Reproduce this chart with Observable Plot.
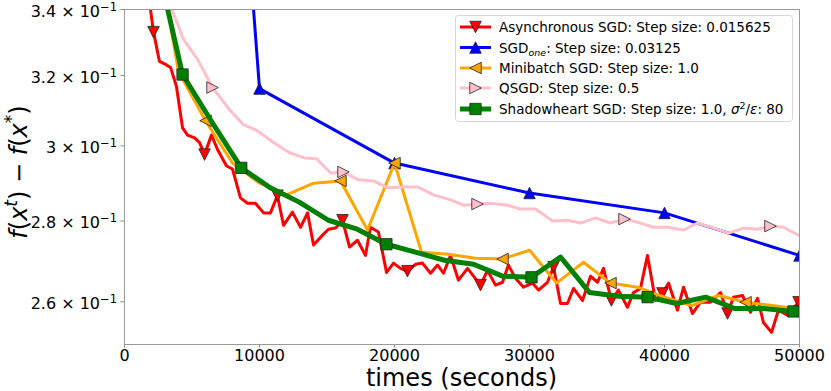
<!DOCTYPE html>
<html><head><meta charset="utf-8">
<script src="https://cdn.jsdelivr.net/npm/d3@7"></script>
<script src="https://cdn.jsdelivr.net/npm/@observablehq/plot@0.6"></script>
<style>
body{margin:0;background:#fff;}
#chart svg{display:block;}
</style>
</head><body><div id="chart"></div>
<script>
// ---------- data ----------
const asyncT = [1630,2150,2590,3040,3410,3850,4300,4670,5190,5560,
  5930,6440,6890,7560,8000,8590,9110,9700,10300,10810,
  11330,11780,12440,13040,13560,14000,14670,15110,15630,16150,
  16670,17260,17850,18220,18810,19410,19930,20440,20960,21560,
  22070,22670,23190,23630,24150,24740,25410,26370,26890,27480,
  28000,28440,28960,29560,30220,30670,31330,31780,32300,32810,
  33260,33930,34520,35040,35480,36070,36590,37260,37700,38220,
  38740,39330,39850,40300,40960,41410,42070,42670,43410,44150,
  44670,45110,45780,46370,46890,47330,47930,48440,49110,49930];
const asyncV = [0.3495,0.3330,0.3242,0.3233,0.3224,0.3168,0.3050,0.3030,0.3022,0.3009,
  0.2976,0.3030,0.2990,0.2945,0.2937,0.2860,0.2846,0.2846,0.2821,0.2821,
  0.2866,0.2789,0.2823,0.2784,0.2821,0.2739,0.2764,0.2779,0.2782,0.2802,
  0.2734,0.2751,0.2713,0.2784,0.2772,0.2671,0.2694,0.2681,0.2674,0.2691,
  0.2694,0.2669,0.2689,0.2669,0.2713,0.2652,0.2681,0.2640,0.2676,0.2640,
  0.2647,0.2689,0.2657,0.2635,0.2645,0.2628,0.2647,0.2684,0.2596,0.2596,
  0.2632,0.2603,0.2662,0.2647,0.2681,0.2603,0.2628,0.2587,0.2622,0.2632,
  0.2713,0.2603,0.2620,0.2645,0.2580,0.2635,0.2572,0.2599,0.2599,0.2622,
  0.2572,0.2611,0.2615,0.2575,0.2608,0.2551,0.2528,0.2580,0.2568,0.2599];
const asyncMarks = [1,10,20,29,38,47,57,65,72,80,89];

const oneT = [0,10000,20000,30000,40000,50000];
const oneV = [1.64,0.3162,0.2953,0.2873,0.2821,0.2713];
const oneMarks = [0,1,2,3,4,5];

const miniT = [2000,4000,6000,8000,10000,12000,14000,16000,18000,20000,
  22000,24000,26000,28000,30000,32000,34000,36000,38000,40000,
  42000,44000,46000,48000,50000];
const miniV = [0.370,0.3212,0.3070,0.2953,0.2899,0.2868,0.2899,0.2905,0.2777,0.2953,
  0.2721,0.2716,0.2706,0.2704,0.2726,0.2645,0.2696,0.2645,0.2635,0.2611,
  0.2591,0.2615,0.2599,0.2591,0.2582];
const miniMarks = [2,7,9,13,17,22];

const qsgdT = [3260,4370,5410,6520,7780,8810,9850,11040,12220,13330,
  14220,15260,16220,17330,18440,19480,20590,21700,22890,24150,
  25110,26150,27110,28370,29330,30440,31700,32810,33780,34890,
  36000,37040,38000,39190,40220,41410,42440,43630,44740,45850,
  46890,47850,48810,49930];
const qsgdV = [0.3428,0.3308,0.3248,0.3165,0.3101,0.3059,0.3042,0.3009,0.2981,0.2967,
  0.2965,0.2926,0.2929,0.2908,0.2905,0.2887,0.2889,0.2889,0.2868,0.2855,
  0.2841,0.2844,0.2846,0.2841,0.2831,0.2831,0.2800,0.2802,0.2795,0.2808,
  0.2795,0.2805,0.2797,0.2784,0.2784,0.2777,0.2795,0.2782,0.2769,0.2782,
  0.2779,0.2787,0.2784,0.2764];
const qsgdMarks = [3,12,21,31,41];

const shadowT = [2150,4300,6450,8650,10800,12950,15100,17250,19400,21550,
  23700,25850,28000,30150,32300,34450,36600,38750,40900,43050,
  45200,47350,49550];
const shadowV = [0.360,0.3203,0.3068,0.2940,0.2887,0.2849,0.2802,0.2779,0.2741,0.2721,
  0.2701,0.2691,0.2662,0.2659,0.2709,0.2622,0.2613,0.2611,0.2596,0.2611,
  0.2584,0.2584,0.2577];
const shadowMarks = [1,3,8,13,17,22];

const xTicks = [0,10000,20000,30000,40000,50000];
const yTicks = [0.26,0.28,0.30,0.32,0.34];

// ---------- marker shapes (matplotlib-like) ----------
const triDown = {draw(c,s){const a=Math.sqrt(s)/2;c.moveTo(0,a);c.lineTo(-a,-a);c.lineTo(a,-a);c.closePath();}};
const triUp = {draw(c,s){const a=Math.sqrt(s)/2;c.moveTo(0,-a);c.lineTo(-a,a);c.lineTo(a,a);c.closePath();}};
const triLeft = {draw(c,s){const a=Math.sqrt(s)/2;c.moveTo(-a,0);c.lineTo(a,-a);c.lineTo(a,a);c.closePath();}};
const triRight = {draw(c,s){const a=Math.sqrt(s)/2;c.moveTo(a,0);c.lineTo(-a,-a);c.lineTo(-a,a);c.closePath();}};
const squareSym = {draw(c,s){const a=Math.sqrt(s)/2;c.moveTo(-a,-a);c.lineTo(a,-a);c.lineTo(a,a);c.lineTo(-a,a);c.closePath();}};

const series = [
  {T:asyncT, V:asyncV, M:asyncMarks, color:"#ff0000", w:3, sym:triDown, r:6.5,
   label:'Asynchronous SGD: Step size: 0.015625'},
  {T:oneT, V:oneV, M:oneMarks, color:"#0000ff", w:3, sym:triUp, r:6.5,
   label:'SGD<tspan font-style="italic" font-size="9.5" dy="3">one</tspan><tspan dy="-3">: Step size: 0.03125</tspan>'},
  {T:miniT, V:miniV, M:miniMarks, color:"#ffa500", w:3, sym:triLeft, r:6.5,
   label:'Minibatch SGD: Step size: 1.0'},
  {T:qsgdT, V:qsgdV, M:qsgdMarks, color:"#ffc0cb", w:3, sym:triRight, r:6.5,
   label:'QSGD: Step size: 0.5'},
  {T:shadowT, V:shadowV, M:shadowMarks, color:"#008000", w:5, sym:squareSym, r:6.4,
   label:'Shadowheart SGD: Step size: 1.0, <tspan font-style="italic">σ</tspan><tspan font-size="9.5" dy="-5">2</tspan><tspan dy="5">/</tspan><tspan font-style="italic">ε</tspan>: 80'}
];
series.forEach(s => { s.rows = s.T.map((t,i)=>({t, v:s.V[i]})); });

const marks = [];
for (const s of series) {
  marks.push(Plot.line(s.rows, {x:"t", y:"v", stroke:s.color, strokeWidth:s.w, clip:true}));
  marks.push(Plot.dot(s.rows.filter((d,i)=>s.M.includes(i)), {x:"t", y:"v", symbol:s.sym, r:s.r, fill:s.color, stroke:"#222", strokeWidth:0.8, clip:true}));
}
marks.push(Plot.frame({stroke:"#9a9a9a"}));

const chart = Plot.plot({
  width:831, height:391,
  marginLeft:124, marginRight:32, marginTop:9, marginBottom:47,
  style:{fontFamily:"DejaVu Sans", fontSize:"16px", color:"black", background:"white", overflow:"visible"},
  x:{domain:[0,50000], ticks:xTicks, tickFormat:d=>String(d), tickSize:3.5, tickPadding:2, label:null},
  y:{type:"log", domain:[0.25,0.34], ticks:yTicks, tickFormat:d=>`${+(d*10).toFixed(1)} × 10`, tickSize:3.5, tickPadding:4, label:null},
  marks
});
document.getElementById("chart").appendChild(chart);

const svg = d3.select(chart);
// y tick label exponents
svg.selectAll('[aria-label="y-axis tick label"] text, [aria-label="y-axis"] text')
  .attr("font-size", 16)
  .attr("transform", function(){ const t = this.getAttribute("transform") || ""; return t + " translate(0,2)"; })
  .each(function(){ d3.select(this).append("tspan").attr("dy","-0.5em").attr("font-size","11.5").text("−1"); });
svg.selectAll('[aria-label="y-axis tick"] path, [aria-label="x-axis tick"] path').attr("stroke","#888");

// axis titles
svg.append("text").attr("x",461.5).attr("y",386).attr("text-anchor","middle")
  .attr("font-size",24).attr("font-family","DejaVu Sans").text("times (seconds)");
svg.append("text").attr("transform","translate(27,172) rotate(-90)").attr("text-anchor","middle")
  .attr("font-size",24).attr("font-family","DejaVu Sans")
  .html('<tspan font-style="italic">f</tspan>(<tspan font-style="italic">x</tspan><tspan font-style="italic" font-size="17" dy="-10">t</tspan><tspan dy="10">) − </tspan><tspan font-style="italic">f</tspan>(<tspan font-style="italic">x</tspan><tspan font-size="17" dy="-10">*</tspan><tspan dy="10">)</tspan>');

// legend
const lg = svg.append("g").attr("font-family","DejaVu Sans").attr("font-size",13.5).attr("text-anchor","start");
lg.append("rect").attr("x",455.5).attr("y",15.5).attr("width",337).attr("height",106).attr("rx",3)
  .attr("fill","white").attr("fill-opacity",0.8).attr("stroke","#d6d6d6");
const rowY = [27,47.5,68,88,109];
series.forEach((s,i)=>{
  const y = rowY[i];
  lg.append("line").attr("x1",460).attr("x2",491).attr("y1",y).attr("y2",y)
    .attr("stroke",s.color).attr("stroke-width",s.w);
  const p = d3.path(); s.sym.draw(p, Math.PI*s.r*s.r);
  lg.append("path").attr("d",p.toString()).attr("transform",`translate(475.5,${y})`)
    .attr("fill",s.color).attr("stroke","#222").attr("stroke-width",0.8);
  lg.append("text").attr("x",499).attr("y",y+5).attr("text-anchor","start").html(s.label);
});
</script>
</body></html>
